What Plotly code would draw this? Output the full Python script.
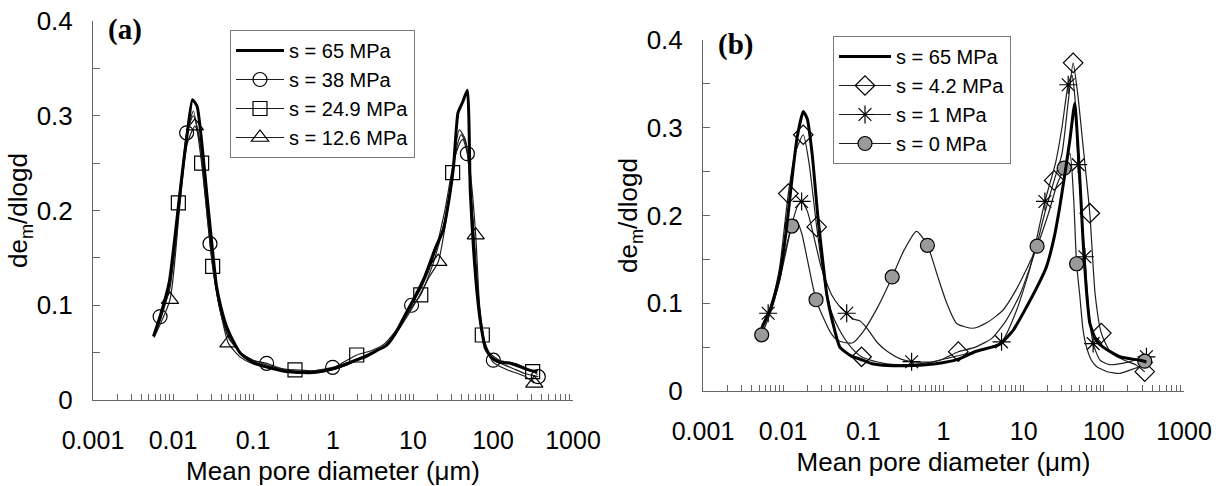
import plotly.graph_objects as go

# ---------------- Panel (a) data ----------------
a65_d = [0.0057, 0.007, 0.009, 0.0105, 0.0117, 0.0135, 0.015, 0.0175, 0.02, 0.023, 0.027, 0.031, 0.035,
         0.04, 0.047, 0.06, 0.07, 0.09, 0.12, 0.18, 0.26, 0.4, 0.57, 0.8, 1.2, 1.8, 2.6, 3.5, 4.7, 6, 8,
         10, 14, 19, 24, 28, 32, 36.5, 42, 47.8, 52, 57, 62, 70, 80, 95, 120, 160, 220, 300, 360]
a65_v = [0.067, 0.09, 0.125, 0.17, 0.205, 0.25, 0.28, 0.317, 0.31, 0.27, 0.21, 0.16, 0.12,
         0.097, 0.077, 0.058, 0.049, 0.042, 0.037, 0.033, 0.030, 0.029, 0.029, 0.031, 0.035, 0.041, 0.046, 0.052, 0.058, 0.07, 0.09,
         0.105, 0.13, 0.16, 0.18, 0.21, 0.245, 0.303, 0.315, 0.327, 0.22, 0.16, 0.12, 0.081, 0.055, 0.045, 0.04, 0.039, 0.035, 0.031, 0.03]

a38_d = [0.0058, 0.0069, 0.009, 0.011, 0.0148, 0.018, 0.021, 0.025, 0.029, 0.034, 0.04, 0.05, 0.07, 0.1, 0.148, 0.25,
         0.4, 0.6, 0.99, 1.8, 3, 4.5, 6.5, 9.6, 13, 18, 25, 32, 38, 42, 47.8, 55, 62, 70, 82, 101, 130, 180, 250, 368]
a38_v = [0.07, 0.088, 0.115, 0.17, 0.282, 0.30, 0.28, 0.22, 0.165, 0.12, 0.09, 0.068, 0.05, 0.042, 0.0387, 0.032,
         0.03, 0.031, 0.0345, 0.042, 0.05, 0.058, 0.075, 0.1, 0.12, 0.15, 0.2, 0.25, 0.27, 0.275, 0.26, 0.2, 0.14, 0.085, 0.055, 0.042, 0.038, 0.033, 0.028, 0.0246]
a38_md = [0.0069, 0.0148, 0.029, 0.148, 0.99, 9.6, 47.8, 101, 368]
a38_mv = [0.088, 0.282, 0.165, 0.0387, 0.0345, 0.1, 0.26, 0.042, 0.0246]

a249_d = [0.0058, 0.007, 0.009, 0.01166, 0.015, 0.018, 0.0228, 0.0313, 0.04, 0.05, 0.07, 0.1, 0.2, 0.335, 0.6, 1,
          1.98, 3, 4.5, 7, 10, 12.5, 18, 25, 31.3, 36, 40, 46, 55, 62, 73.5, 90, 120, 200, 313, 360]
a249_v = [0.068, 0.085, 0.12, 0.208, 0.28, 0.305, 0.25, 0.141, 0.09, 0.065, 0.05, 0.042, 0.034, 0.0317, 0.031, 0.034,
          0.0475, 0.052, 0.06, 0.08, 0.1, 0.111, 0.145, 0.19, 0.24, 0.27, 0.28, 0.27, 0.2, 0.13, 0.0686, 0.05, 0.042, 0.038, 0.03, 0.027]
a249_md = [0.01166, 0.0228, 0.0313, 0.335, 1.98, 12.5, 31.3, 73.5, 313]
a249_mv = [0.208, 0.25, 0.141, 0.0317, 0.0475, 0.111, 0.24, 0.0686, 0.03]

a126_d = [0.0058, 0.00917, 0.012, 0.015, 0.0188, 0.022, 0.027, 0.033, 0.04, 0.0492, 0.07, 0.1, 0.2, 0.4, 0.8, 1.5,
          3, 5, 8, 12, 16, 20.7, 27, 33, 38, 45, 52, 60.8, 68, 80, 100, 150, 250, 328]
a126_v = [0.066, 0.106, 0.2, 0.27, 0.289, 0.27, 0.2, 0.13, 0.09, 0.06, 0.045, 0.038, 0.032, 0.028, 0.03, 0.037,
          0.05, 0.06, 0.085, 0.11, 0.13, 0.146, 0.2, 0.26, 0.285, 0.275, 0.24, 0.174, 0.1, 0.06, 0.04, 0.032, 0.025, 0.0176]
a126_md = [0.00917, 0.0188, 0.0492, 20.7, 60.8, 328]
a126_mv = [0.106, 0.289, 0.06, 0.146, 0.174, 0.0176]

# ---------------- Panel (b) data ----------------
b65_d = [0.0054, 0.007, 0.009, 0.011, 0.013, 0.015, 0.0178, 0.02, 0.023, 0.027, 0.031, 0.035, 0.041, 0.051, 0.07,
         0.1, 0.13, 0.2, 0.42, 0.8, 1.5, 2.5, 5, 7.5, 10.9, 15, 19.3, 24, 28.2, 33, 37.7, 43.4, 47, 51, 55, 60,
         67, 80, 98, 158, 282, 340]
b65_v = [0.0715, 0.095, 0.13, 0.185, 0.245, 0.29, 0.3185, 0.31, 0.27, 0.2, 0.15, 0.11, 0.08, 0.05, 0.04,
         0.035, 0.031, 0.029, 0.029, 0.031, 0.036, 0.045, 0.053, 0.07, 0.096, 0.12, 0.142, 0.175, 0.21, 0.25, 0.286, 0.328, 0.286, 0.23, 0.172, 0.12,
         0.077, 0.058, 0.05, 0.039, 0.035, 0.033]

b42_d = [0.0054, 0.007, 0.009, 0.0116, 0.014, 0.0178, 0.021, 0.0262, 0.032, 0.04, 0.05, 0.07, 0.095, 0.15, 0.25,
         0.5, 0.9, 1.53, 2.5, 4, 6, 9, 14, 18, 24, 30, 36, 41.4, 47, 55, 66.8, 78, 93, 120, 180, 250, 324]
b42_v = [0.07, 0.095, 0.14, 0.225, 0.27, 0.292, 0.26, 0.187, 0.13, 0.09, 0.07, 0.05, 0.039, 0.033, 0.03,
         0.031, 0.035, 0.0448, 0.05, 0.06, 0.08, 0.11, 0.16, 0.2, 0.24, 0.27, 0.33, 0.374, 0.34, 0.28, 0.2026, 0.11, 0.066, 0.045, 0.035, 0.03, 0.022]
b42_md = [0.0116, 0.0178, 0.0262, 0.095, 1.53, 24, 41.4, 66.8, 93, 324]
b42_mv = [0.225, 0.292, 0.187, 0.039, 0.0448, 0.24, 0.374, 0.2026, 0.066, 0.022]

b1_d = [0.0054, 0.0065, 0.009, 0.012, 0.015, 0.017, 0.02, 0.025, 0.03, 0.04, 0.05, 0.062, 0.075, 0.09, 0.11, 0.15,
        0.2, 0.3, 0.40, 0.7, 1.2, 2.5, 5.3, 8, 12, 18.4, 25, 30, 35.9, 40, 44, 47.9, 58, 65, 73.6, 90, 120, 200, 340]
b1_v = [0.075, 0.0886, 0.13, 0.18, 0.21, 0.216, 0.205, 0.17, 0.14, 0.11, 0.097, 0.0886, 0.082, 0.08, 0.072, 0.055,
        0.045, 0.036, 0.0334, 0.033, 0.038, 0.045, 0.056, 0.09, 0.14, 0.216, 0.26, 0.3, 0.349, 0.36, 0.33, 0.258, 0.153, 0.09, 0.054, 0.035, 0.03, 0.033, 0.039]
b1_md = [0.0065, 0.017, 0.062, 0.40, 5.3, 18.4, 35.9, 47.9, 58, 73.6, 340]
b1_mv = [0.0886, 0.216, 0.0886, 0.0334, 0.056, 0.216, 0.349, 0.258, 0.153, 0.054, 0.039]

b0_d = [0.0054, 0.007, 0.009, 0.0115, 0.0128, 0.0145, 0.017, 0.02, 0.0257, 0.033, 0.04, 0.047, 0.06, 0.074, 0.1,
        0.15, 0.229, 0.32, 0.46, 0.63, 0.85, 1.1, 1.46, 2.34, 3.5, 5.5, 8, 11, 14.7, 20, 26, 32, 37.7, 42, 45.7,
        50, 55, 60.8, 70, 81, 110, 158, 230, 282, 324]
b0_v = [0.064, 0.09, 0.125, 0.17, 0.188, 0.195, 0.18, 0.15, 0.104, 0.08, 0.065, 0.058, 0.055, 0.055, 0.068,
        0.095, 0.13, 0.16, 0.182, 0.166, 0.13, 0.1, 0.077, 0.0715, 0.078, 0.092, 0.115, 0.14, 0.165, 0.2, 0.235, 0.254, 0.271, 0.22, 0.145,
        0.11, 0.07, 0.05, 0.035, 0.028, 0.022, 0.02, 0.025, 0.028, 0.034]
b0_md = [0.0054, 0.0128, 0.0257, 0.229, 0.63, 14.7, 32, 45.7, 324]
b0_mv = [0.064, 0.188, 0.104, 0.13, 0.166, 0.165, 0.254, 0.145, 0.034]

# ---------------- Axis labels ----------------
x_decades = [0.001, 0.01, 0.1, 1, 10, 100, 1000]
x_decade_text = ["0.001", "0.01", "0.1", "1", "10", "100", "1000"]
x_title = "Mean pore diameter (μm)"
y_title = "de<sub>m</sub>/dlogd"
legend_a = ["s = 65 MPa", "s = 38 MPa", "s = 24.9 MPa", "s = 12.6 MPa"]
legend_b = ["s = 65 MPa", "s = 4.2 MPa", "s = 1 MPa", "s = 0 MPa"]

# build tick positions (decades + minor 2..9)
tickvals, ticktext = [], []
for i, dv in enumerate(x_decades):
    tickvals.append(dv)
    ticktext.append(x_decade_text[i])
    if i < len(x_decades) - 1:
        for m in range(2, 10):
            tickvals.append(dv * m)
            ticktext.append("")

W, H = 1219, 486
FONT = "Liberation Sans, Arial, sans-serif"
AX = "#666666"
THIN = "#1e1e1e"

fig = go.Figure()

def legend_entry(name, legend, symbol=None, fill="white", size=14, thick=False):
    if thick:
        fig.add_trace(go.Scatter(x=[None], y=[None], mode="lines", name=name, legend=legend,
                                 line=dict(color="black", width=3)))
    else:
        fig.add_trace(go.Scatter(x=[None], y=[None], mode="lines+markers", name=name, legend=legend,
                                 line=dict(color=THIN, width=1.2),
                                 marker=dict(symbol=symbol, size=size, color=fill,
                                             line=dict(color="black", width=1.2))))

def series(xd, yv, md, mv, xa, ya, symbol, fill="white", size=14):
    fig.add_trace(go.Scatter(x=xd, y=yv, mode="lines", xaxis=xa, yaxis=ya, showlegend=False,
                             line=dict(color=THIN, width=1.2, shape="spline", smoothing=0.6),
                             hoverinfo="skip"))
    fig.add_trace(go.Scatter(x=md, y=mv, mode="markers", xaxis=xa, yaxis=ya, showlegend=False,
                             marker=dict(symbol=symbol, size=size, color=fill,
                                         line=dict(color="black", width=1.2))))

# legend entries
legend_entry(legend_a[0], "legend", thick=True)
legend_entry(legend_a[1], "legend", "circle-open", "black")
legend_entry(legend_a[2], "legend", "square-open", "black")
legend_entry(legend_a[3], "legend", "triangle-up-open", "black", size=15)
legend_entry(legend_b[0], "legend2", thick=True)
legend_entry(legend_b[1], "legend2", "diamond-open", "black", size=15)
legend_entry(legend_b[2], "legend2", "asterisk-open", "black", size=15)
legend_entry(legend_b[3], "legend2", "circle", "#9a9a9a")

# panel (a)
series(a38_d, a38_v, a38_md, a38_mv, "x", "y", "circle-open", "black")
series(a249_d, a249_v, a249_md, a249_mv, "x", "y", "square-open", "black")
series(a126_d, a126_v, a126_md, a126_mv, "x", "y", "triangle-up-open", "black", 15)
fig.add_trace(go.Scatter(x=a65_d, y=a65_v, mode="lines", xaxis="x", yaxis="y", showlegend=False,
                         line=dict(color="black", width=3, shape="spline", smoothing=0.5)))

# panel (b)
series(b42_d, b42_v, b42_md, b42_mv, "x2", "y2", "diamond-open", "black", 15)
series(b1_d, b1_v, b1_md, b1_mv, "x2", "y2", "asterisk-open", "black", 15)
series(b0_d, b0_v, b0_md, b0_mv, "x2", "y2", "circle", "#9a9a9a")
fig.add_trace(go.Scatter(x=b65_d, y=b65_v, mode="lines", xaxis="x2", yaxis="y2", showlegend=False,
                         line=dict(color="black", width=3, shape="spline", smoothing=0.5)))

def xaxis(dom, anchor):
    return dict(domain=dom, anchor=anchor, type="log", range=[-3, 3], showgrid=False, zeroline=False,
                showline=True, linecolor=AX, linewidth=1, mirror=False,
                tickmode="array", tickvals=tickvals, ticktext=ticktext,
                ticks="inside", ticklen=6, tickcolor=AX, tickwidth=1,
                tickfont=dict(family=FONT, size=25, color="black"), ticklabelstandoff=18,
                title=dict(text=x_title, font=dict(family=FONT, size=26, color="black"), standoff=8),
                automargin=False)

def yaxis(dom, anchor):
    return dict(domain=dom, anchor=anchor, range=[0, 0.4], showgrid=False, zeroline=False,
                showline=True, linecolor=AX, linewidth=1, dtick=0.1, tick0=0,
                ticks="inside", ticklen=7, tickcolor=AX, tickwidth=1,
                minor=dict(dtick=0.05, ticks="inside", ticklen=7, tickcolor=AX, showgrid=False),
                tickfont=dict(family=FONT, size=26, color="black"), ticklabelstandoff=14,
                title=dict(text=y_title, font=dict(family=FONT, size=26, color="black"), standoff=0),
                automargin=False)

fig.update_layout(
    width=W, height=H, margin=dict(l=0, r=0, t=0, b=0),
    paper_bgcolor="white", plot_bgcolor="white",
    font=dict(family=FONT, color="black"),
    xaxis=xaxis([93 / W, 573 / W], "y"),
    yaxis=yaxis([(H - 400) / H, (H - 21) / H], "x"),
    xaxis2=xaxis([703 / W, 1184 / W], "y2"),
    yaxis2=yaxis([(H - 391) / H, (H - 40) / H], "x2"),
    legend=dict(x=230 / W, y=1 - 30 / H, xanchor="left", yanchor="top", bgcolor="white",
                bordercolor="#7a7a7a", borderwidth=1, font=dict(family=FONT, size=20, color="black"),
                itemwidth=48, traceorder="normal"),
    legend2=dict(x=833 / W, y=1 - 36 / H, xanchor="left", yanchor="top", bgcolor="white",
                 bordercolor="#7a7a7a", borderwidth=1, font=dict(family=FONT, size=20, color="black"),
                 itemwidth=52, traceorder="normal"),
    annotations=[
        dict(text="<b>(a)</b>", x=106 / W, y=1 - 29 / H, xref="paper", yref="paper", xanchor="left",
             yanchor="middle", showarrow=False, font=dict(family="Liberation Serif, Times New Roman, serif", size=29)),
        dict(text="<b>(b)</b>", x=716 / W, y=1 - 44 / H, xref="paper", yref="paper", xanchor="left",
             yanchor="middle", showarrow=False, font=dict(family="Liberation Serif, Times New Roman, serif", size=29)),
    ],
)

fig.write_html("out.html", config={"displayModeBar": False},
               post_script="document.body.style.margin='0';document.body.style.overflow='hidden';")
